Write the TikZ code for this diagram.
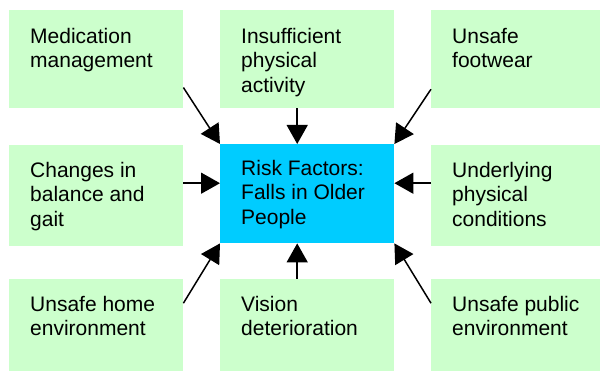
\documentclass[tikz,border=0pt]{standalone}
\usepackage{fontspec}
\setmainfont{Liberation Sans}
\usetikzlibrary{arrows.meta}

\definecolor{factorgreen}{RGB}{204,255,204}
\definecolor{riskcyan}{RGB}{0,204,255}
\newcommand\factortext[3]{\parbox[c][#1][t]{132pt}{\rule{0pt}{#2}#3}}

\begin{document}
\begin{tikzpicture}[
  x=1pt,y=-1pt,
  factor/.style={fill=factorgreen,inner xsep=21pt,inner ysep=0pt,anchor=north west,
    font=\fontsize{21}{24.5}\selectfont},
  risk/.style={factor,fill=riskcyan},
  push/.style={line width=1.5pt,-{Triangle[length=19pt,width=21pt]}}]
\useasboundingbox[fill=white] (0,0) rectangle (600,371);
\node[risk] (R) at (220,144) {\factortext{99pt}{31pt}{Risk Factors:\\Falls in Older\\People}};
\node[factor] (MM) at (9,10) {\factortext{98pt}{33pt}{Medication\\management}};
\node[factor] (PA) at (220,10) {\factortext{98pt}{33pt}{Insufficient\\physical\\activity}};
\node[factor] (FW) at (431,10) {\factortext{98pt}{33pt}{Unsafe\\footwear}};
\node[factor] (BG) at (9,145) {\factortext{101pt}{32pt}{Changes in\\balance and\\gait}};
\node[factor] (PC) at (431,145) {\factortext{101pt}{32pt}{Underlying\\physical\\conditions}};
\node[factor] (HE) at (9,279) {\factortext{98pt}{32pt}{Unsafe home\\environment}};
\node[factor] (VD) at (220,279) {\factortext{98pt}{32pt}{Vision\\deterioration}};
\node[factor] (PE) at (431,279) {\factortext{98pt}{32pt}{Unsafe public\\environment}};
\draw[push] (MM.-18.7) -- (R.north west);
\draw[push] ([xshift=-10pt]PA.south) -- ([xshift=-10pt]R.north);
\draw[push] (FW.-161.3) -- (R.north east);
\draw[push] ([yshift=12.5pt]BG.east) -- ([yshift=10.5pt]R.west);
\draw[push] ([yshift=12.5pt]PC.west) -- ([yshift=10.5pt]R.east);
\draw[push] (HE.16.5) -- (R.south west);
\draw[push] ([xshift=-10pt]VD.north) -- ([xshift=-10pt]R.south);
\draw[push] (PE.164) -- (R.south east);
\end{tikzpicture}
\end{document}
